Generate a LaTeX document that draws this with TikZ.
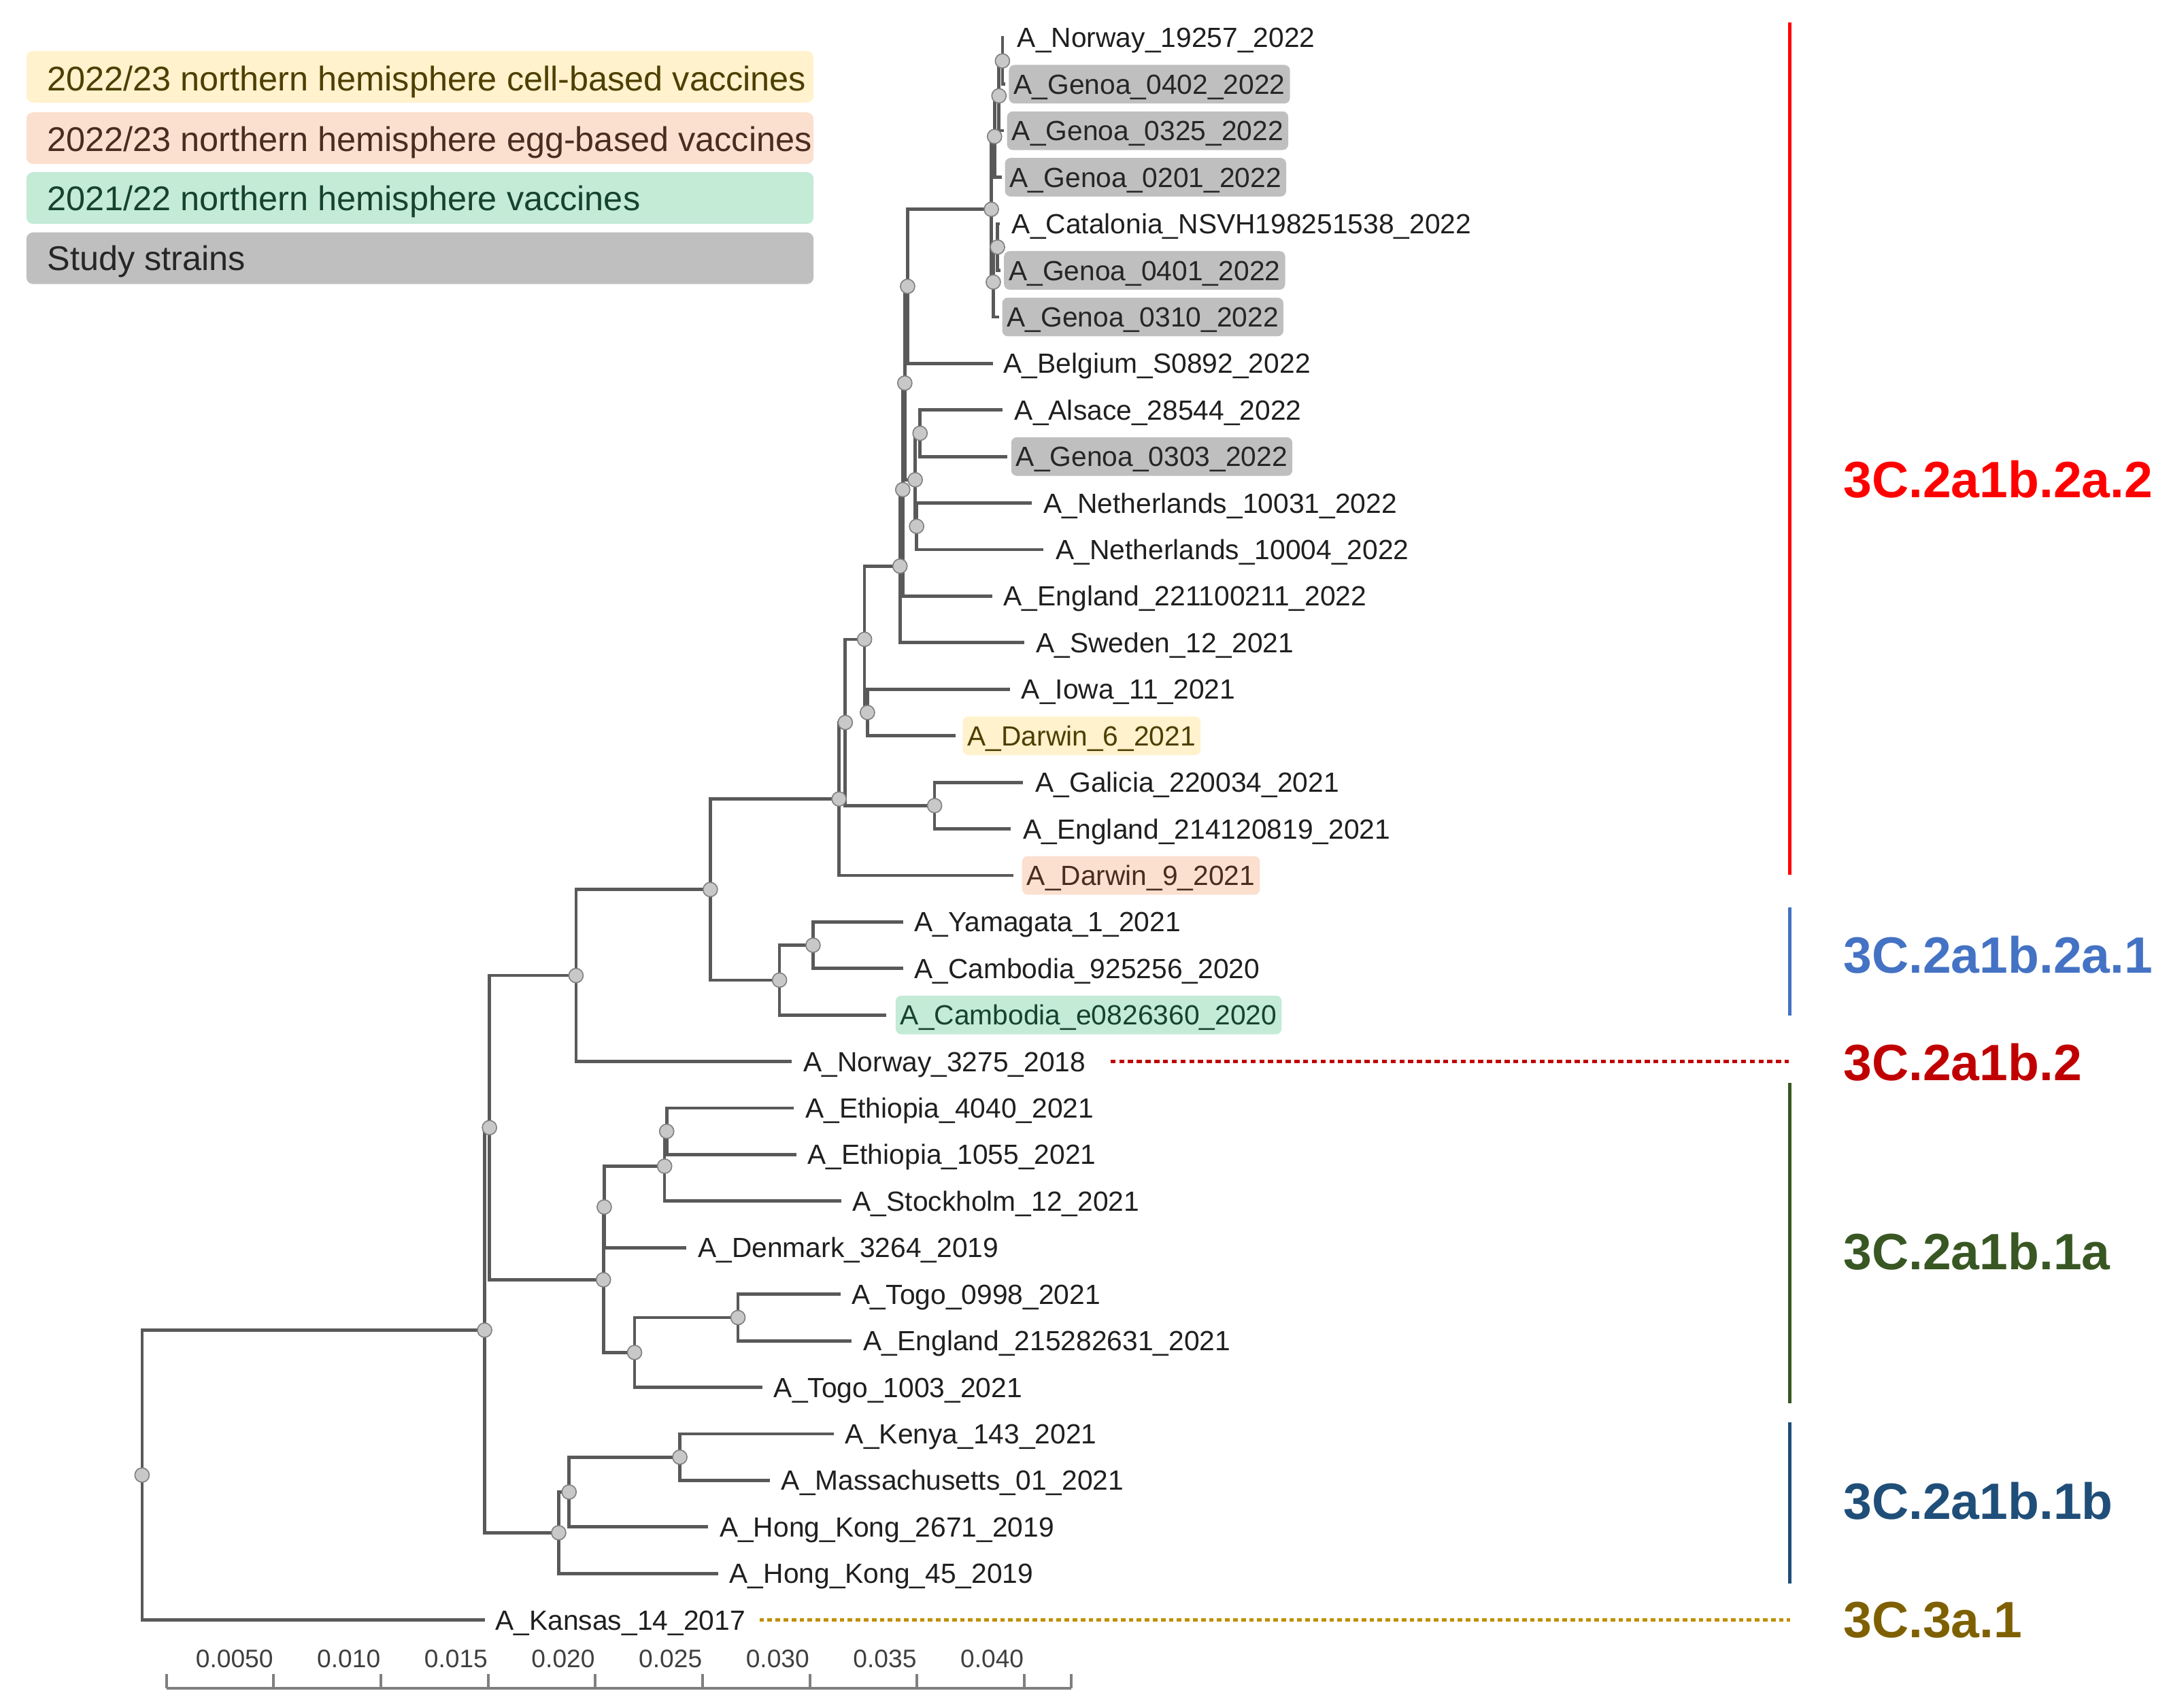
\documentclass[tikz,border=0pt]{standalone}
\usepackage{fontspec}
\setmainfont{Liberation Sans}
\usetikzlibrary{backgrounds}
\definecolor{brc}{HTML}{595959}
\definecolor{dotc}{HTML}{7F7F7F}
\definecolor{dotf}{HTML}{C8C8C8}
\definecolor{labc}{HTML}{1F1F1F}
\definecolor{fyel}{HTML}{FFF2CC}
\definecolor{fegg}{HTML}{FBE0CF}
\definecolor{fgrn}{HTML}{C3EBD6}
\definecolor{fgry}{HTML}{BFBFBF}
\definecolor{tyel}{HTML}{4D3F00}
\definecolor{tegg}{HTML}{4A2C20}
\definecolor{tgrn}{HTML}{16432E}
\definecolor{tgry}{HTML}{262626}
\definecolor{cred}{HTML}{FF0000}
\definecolor{cblue}{HTML}{4472C4}
\definecolor{cdred}{HTML}{C00000}
\definecolor{cgreen}{HTML}{385723}
\definecolor{cnavy}{HTML}{1F4E79}
\definecolor{cgold}{HTML}{7F6000}
\definecolor{cgoldline}{HTML}{BF9000}
\definecolor{axc}{HTML}{7F7F7F}
\definecolor{axt}{HTML}{3F3F3F}
\begin{document}
\begin{tikzpicture}[x=0.02cm,y=-0.02cm,
  branch/.style={draw=brc, line width=1.3pt},
  inode/.style={circle, draw=dotc, fill=dotf, line width=0.45pt, minimum size=5.9pt, inner sep=0pt},
  lab/.style={anchor=west, inner xsep=2pt, inner ysep=3.85pt, text height=8.16pt, text depth=0pt,
    font=\fontsize{11.4}{13}\selectfont, text=labc, rounded corners=2.3pt},
  study/.style={lab, fill=fgry, text=tgry},
  cellv/.style={lab, fill=fyel, text=tyel},
  eggv/.style={lab, fill=fegg, text=tegg},
  oldv/.style={lab, fill=fgrn, text=tgrn},
  legbox/.style={anchor=west, minimum width=323.6pt, minimum height=21.26pt, inner sep=0pt, rounded corners=2.8pt},
  legtxt/.style={anchor=west, inner sep=0pt, text height=10.1pt, text depth=0pt, font=\fontsize{14.1}{16}\selectfont},
  clade/.style={anchor=west, inner sep=0pt, font=\fontsize{21}{25}\selectfont\bfseries},
  cladebar/.style={line width=1.6pt},
  axis/.style={draw=axc, line width=1.1pt},
  scl/.style={anchor=east, inner sep=0pt, text height=7.45pt, text depth=0pt, font=\fontsize{10.4}{12}\selectfont, text=axt}
]
\useasboundingbox (0,0) rectangle (1568,1233);

% ---------- legend ----------
\node[legbox, fill=fyel] (lb1) at (18.7,55.4) {};
\node[legbox, fill=fegg] (lb2) at (18.7,99.8) {};
\node[legbox, fill=fgrn] (lb3) at (18.7,143.0) {};
\node[legbox, fill=fgry] (lb4) at (18.7,186.5) {};
\node[legtxt, text=tyel] (lt1) at (33.8,56.6) {2022/23 northern hemisphere cell-based vaccines};
\node[legtxt, text=tegg] (lt2) at (33.8,100.6) {2022/23 northern hemisphere egg-based vaccines};
\node[legtxt, text=tgrn] (lt3) at (33.8,143.2) {2021/22 northern hemisphere vaccines};
\node[legtxt, text=tgry] (lt4) at (33.8,186.2) {Study strains};

% ---------- leaf tips ----------
\coordinate (t1) at (725,27.2);
\coordinate (t2) at (726,60.8);
\coordinate (t3) at (725,94.4);
\coordinate (t4) at (723.5,128.0);
\coordinate (t5) at (722,161.6);
\coordinate (t6) at (722.5,195.3);
\coordinate (t7) at (721.5,228.9);
\coordinate (t8) at (717,262.5);
\coordinate (t9) at (724,296.1);
\coordinate (t10) at (727.5,329.7);
\coordinate (t11) at (745,363.3);
\coordinate (t12) at (753.7,396.9);
\coordinate (t13) at (716.6,430.5);
\coordinate (t14) at (739.7,464.1);
\coordinate (t15) at (729.3,497.7);
\coordinate (t16) at (690,531.4);
\coordinate (t17) at (738.7,565.0);
\coordinate (t18) at (730.2,598.6);
\coordinate (t19) at (731.8,632.2);
\coordinate (t20) at (652.1,665.8);
\coordinate (t21) at (652.1,699.4);
\coordinate (t22) at (640.3,733.0);
\coordinate (t23) at (572,766.6);
\coordinate (t24) at (573.3,800.2);
\coordinate (t25) at (575,833.8);
\coordinate (t26) at (607.6,867.4);
\coordinate (t27) at (495.6,901.1);
\coordinate (t28) at (607,934.7);
\coordinate (t29) at (615.2,968.3);
\coordinate (t30) at (550.7,1001.9);
\coordinate (t31) at (602.4,1035.5);
\coordinate (t32) at (556,1069.1);
\coordinate (t33) at (511.6,1102.7);
\coordinate (t34) at (518.7,1136.3);
\coordinate (t35) at (350,1169.9);

% ---------- leaf labels ----------
\node[lab] (l1) at (731,27.2) {A\_Norway\_19257\_2022};
\node[study] (l2) at (728.3,60.8) {A\_Genoa\_0402\_2022};
\node[study] (l3) at (727,94.4) {A\_Genoa\_0325\_2022};
\node[study] (l4) at (725.5,128.0) {A\_Genoa\_0201\_2022};
\node[lab] (l5) at (727,161.6) {A\_Catalonia\_NSVH198251538\_2022};
\node[study] (l6) at (724.8,195.3) {A\_Genoa\_0401\_2022};
\node[study] (l7) at (723.5,228.9) {A\_Genoa\_0310\_2022};
\node[lab] (l8) at (721,262.5) {A\_Belgium\_S0892\_2022};
\node[lab] (l9) at (729,296.1) {A\_Alsace\_28544\_2022};
\node[study] (l10) at (730,329.7) {A\_Genoa\_0303\_2022};
\node[lab] (l11) at (750,363.3) {A\_Netherlands\_10031\_2022};
\node[lab] (l12) at (758.7,396.9) {A\_Netherlands\_10004\_2022};
\node[lab] (l13) at (721,430.5) {A\_England\_221100211\_2022};
\node[lab] (l14) at (744.5,464.1) {A\_Sweden\_12\_2021};
\node[lab] (l15) at (733.9,497.7) {A\_Iowa\_11\_2021};
\node[cellv] (l16) at (694.9,531.4) {A\_Darwin\_6\_2021};
\node[lab] (l17) at (744,565.0) {A\_Galicia\_220034\_2021};
\node[lab] (l18) at (735.2,598.6) {A\_England\_214120819\_2021};
\node[eggv] (l19) at (737.8,632.2) {A\_Darwin\_9\_2021};
\node[lab] (l20) at (656.5,665.8) {A\_Yamagata\_1\_2021};
\node[lab] (l21) at (656.5,699.4) {A\_Cambodia\_925256\_2020};
\node[oldv] (l22) at (646.5,733.0) {A\_Cambodia\_e0826360\_2020};
\node[lab] (l23) at (576.5,766.6) {A\_Norway\_3275\_2018};
\node[lab] (l24) at (577.9,800.2) {A\_Ethiopia\_4040\_2021};
\node[lab] (l25) at (579.5,833.8) {A\_Ethiopia\_1055\_2021};
\node[lab] (l26) at (612,867.4) {A\_Stockholm\_12\_2021};
\node[lab] (l27) at (500.2,901.1) {A\_Denmark\_3264\_2019};
\node[lab] (l28) at (611.5,934.7) {A\_Togo\_0998\_2021};
\node[lab] (l29) at (619.8,968.3) {A\_England\_215282631\_2021};
\node[lab] (l30) at (555.1,1001.9) {A\_Togo\_1003\_2021};
\node[lab] (l31) at (606.7,1035.5) {A\_Kenya\_143\_2021};
\node[lab] (l32) at (560.5,1069.1) {A\_Massachusetts\_01\_2021};
\node[lab] (l33) at (515.9,1102.7) {A\_Hong\_Kong\_2671\_2019};
\node[lab] (l34) at (523.1,1136.3) {A\_Hong\_Kong\_45\_2019};
\node[lab] (l35) at (354,1169.9) {A\_Kansas\_14\_2017};

% ---------- internal nodes ----------
\node[inode] (R1) at (724,44.0) {};
\node[inode] (R2) at (721.5,69.2) {};
\node[inode] (R3) at (718.3,98.6) {};
\node[inode] (S1) at (720.4,178.45) {};
\node[inode] (S2) at (717.4,203.7) {};
\node[inode] (Q) at (716,151.15) {};
\node[inode] (P) at (655.5,206.8) {};
\node[inode] (N1) at (664.5,312.9) {};
\node[inode] (N2) at (662,380.1) {};
\node[inode] (N3) at (661,346.5) {};
\node[inode] (M) at (653.5,276.65) {};
\node[inode] (L) at (652,353.6) {};
\node[inode] (K) at (650,408.85) {};
\node[inode] (J) at (626.5,514.55) {};
\node[inode] (I) at (624.4,461.7) {};
\node[inode] (H) at (675,581.8) {};
\node[inode] (G) at (610.5,521.75) {};
\node[inode] (D) at (606,577.0) {};
\node[inode] (F) at (587.2,682.6) {};
\node[inode] (E) at (563,707.8) {};
\node[inode] (C) at (513,642.4) {};
\node[inode] (B) at (416,704.5) {};
\node[inode] (T3) at (481.5,817.0) {};
\node[inode] (T4) at (480,842.2) {};
\node[inode] (T2) at (436.4,871.65) {};
\node[inode] (T5) at (533,951.5) {};
\node[inode] (T6) at (458.3,976.7) {};
\node[inode] (T1) at (435.8,924.2) {};
\node[inode] (U) at (353.5,814.35) {};
\node[inode] (Y) at (491,1052.3) {};
\node[inode] (X) at (411,1077.5) {};
\node[inode] (W) at (403.5,1106.9) {};
\node[inode] (V) at (350,960.6) {};
\node[inode] (Z) at (102.6,1065.25) {};

% ---------- branches ----------
\begin{pgfonlayer}{background}
\draw[branch] (R1.center) |- (t1);
\draw[branch] (R1.center) |- (t2);
\draw[branch] (R2.center) |- (R1.center);
\draw[branch] (R2.center) |- (t3);
\draw[branch] (R3.center) |- (R2.center);
\draw[branch] (R3.center) |- (t4);
\draw[branch] (S1.center) |- (t5);
\draw[branch] (S1.center) |- (t6);
\draw[branch] (S2.center) |- (S1.center);
\draw[branch] (S2.center) |- (t7);
\draw[branch] (Q.center) |- (R3.center);
\draw[branch] (Q.center) |- (S2.center);
\draw[branch] (P.center) |- (Q.center);
\draw[branch] (P.center) |- (t8);
\draw[branch] (N1.center) |- (t9);
\draw[branch] (N1.center) |- (t10);
\draw[branch] (N2.center) |- (t11);
\draw[branch] (N2.center) |- (t12);
\draw[branch] (N3.center) |- (N1.center);
\draw[branch] (N3.center) |- (N2.center);
\draw[branch] (M.center) |- (P.center);
\draw[branch] (M.center) |- (N3.center);
\draw[branch] (L.center) |- (M.center);
\draw[branch] (L.center) |- (t13);
\draw[branch] (K.center) |- (L.center);
\draw[branch] (K.center) |- (t14);
\draw[branch] (J.center) |- (t15);
\draw[branch] (J.center) |- (t16);
\draw[branch] (I.center) |- (K.center);
\draw[branch] (I.center) |- (J.center);
\draw[branch] (H.center) |- (t17);
\draw[branch] (H.center) |- (t18);
\draw[branch] (G.center) |- (I.center);
\draw[branch] (G.center) |- (H.center);
\draw[branch] (D.center) |- (G.center);
\draw[branch] (D.center) |- (t19);
\draw[branch] (F.center) |- (t20);
\draw[branch] (F.center) |- (t21);
\draw[branch] (E.center) |- (F.center);
\draw[branch] (E.center) |- (t22);
\draw[branch] (C.center) |- (D.center);
\draw[branch] (C.center) |- (E.center);
\draw[branch] (B.center) |- (C.center);
\draw[branch] (B.center) |- (t23);
\draw[branch] (T3.center) |- (t24);
\draw[branch] (T3.center) |- (t25);
\draw[branch] (T4.center) |- (T3.center);
\draw[branch] (T4.center) |- (t26);
\draw[branch] (T2.center) |- (T4.center);
\draw[branch] (T2.center) |- (t27);
\draw[branch] (T5.center) |- (t28);
\draw[branch] (T5.center) |- (t29);
\draw[branch] (T6.center) |- (T5.center);
\draw[branch] (T6.center) |- (t30);
\draw[branch] (T1.center) |- (T2.center);
\draw[branch] (T1.center) |- (T6.center);
\draw[branch] (U.center) |- (B.center);
\draw[branch] (U.center) |- (T1.center);
\draw[branch] (Y.center) |- (t31);
\draw[branch] (Y.center) |- (t32);
\draw[branch] (X.center) |- (Y.center);
\draw[branch] (X.center) |- (t33);
\draw[branch] (W.center) |- (X.center);
\draw[branch] (W.center) |- (t34);
\draw[branch] (V.center) |- (U.center);
\draw[branch] (V.center) |- (W.center);
\draw[branch] (Z.center) |- (V.center);
\draw[branch] (Z.center) |- (t35);
\end{pgfonlayer}

% ---------- clade bars and labels ----------
\coordinate (ca1) at (1292.7,16.2);   \coordinate (ca2) at (1292.7,631.5);
\coordinate (cb1) at (1292.7,655.5);  \coordinate (cb2) at (1292.7,733.2);
\coordinate (cc1) at (1292.7,781.8);  \coordinate (cc2) at (1292.7,1013.6);
\coordinate (cd1) at (1292.7,1027);   \coordinate (cd2) at (1292.7,1143.7);
\draw[cladebar, cred] (ca1) -- (ca2);
\draw[cladebar, cblue] (cb1) -- (cb2);
\draw[cladebar, cgreen] (cc1) -- (cc2);
\draw[cladebar, cnavy] (cd1) -- (cd2);
\coordinate (dr1) at (802,766.6);  \coordinate (dr2) at (1292,766.6);
\coordinate (dg1) at (548.5,1169.9); \coordinate (dg2) at (1293,1169.9);
\draw[cdred, line width=1.3pt, dash pattern=on 2.1pt off 1.5pt] (dr1) -- (dr2);
\draw[cgoldline, line width=1.3pt, dash pattern=on 1.9pt off 1.4pt] (dg1) -- (dg2);

\node[clade, text=cred] (k1) at (1331,346.4) {3C.2a1b.2a.2};
\node[clade, text=cblue] (k2) at (1331,689.6) {3C.2a1b.2a.1};
\node[clade, text=cdred] (k3) at (1331,767) {3C.2a1b.2};
\node[clade, text=cgreen] (k4) at (1331,903.8) {3C.2a1b.1a};
\node[clade, text=cnavy] (k5) at (1331,1083.8) {3C.2a1b.1b};
\node[clade, text=cgold] (k6) at (1331,1170) {3C.3a.1};

% ---------- scale bar ----------
\coordinate (ax0) at (120.2,1219);
\coordinate (axE) at (773.6,1219);
\draw[axis] (ax0) -- (axE);
\foreach \k in {0,...,8} {
  \draw[axis] ({120.2+77.44*\k},1209) -- ({120.2+77.44*\k},1219);
}
\draw[axis] (773.6,1209) -- (axE);
\node[scl] (s1) at ({120.2+77.44*1},1197.6) {0.0050};
\node[scl] (s2) at ({120.2+77.44*2},1197.6) {0.010};
\node[scl] (s3) at ({120.2+77.44*3},1197.6) {0.015};
\node[scl] (s4) at ({120.2+77.44*4},1197.6) {0.020};
\node[scl] (s5) at ({120.2+77.44*5},1197.6) {0.025};
\node[scl] (s6) at ({120.2+77.44*6},1197.6) {0.030};
\node[scl] (s7) at ({120.2+77.44*7},1197.6) {0.035};
\node[scl] (s8) at ({120.2+77.44*8},1197.6) {0.040};
\end{tikzpicture}
\end{document}
